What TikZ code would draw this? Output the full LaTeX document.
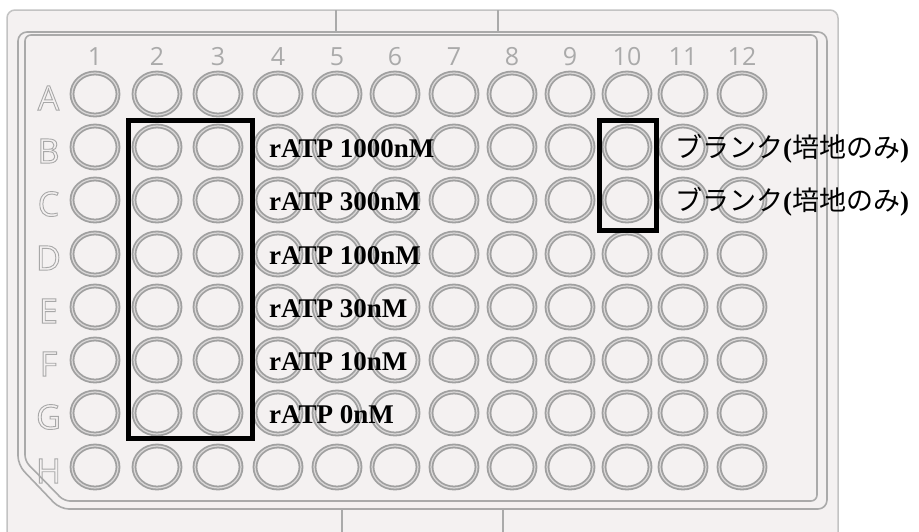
\documentclass[tikz,border=0pt]{standalone}
\usepackage{fontspec}
\setmainfont{Liberation Serif}
\newfontfamily\cjk{Noto Sans CJK JP}
\newfontfamily\labfont{Open Sans}
\usetikzlibrary{shapes.geometric}
\definecolor{platefill}{RGB}{244,241,241}
\definecolor{edge}{RGB}{195,195,195}
\definecolor{frameline}{RGB}{170,170,170}
\definecolor{ring}{RGB}{160,160,160}
\definecolor{ringgap}{RGB}{218,216,216}
\definecolor{labgray}{RGB}{170,170,170}
\newcommand\outlinetext[1]{\special{pdf:literal direct 1 Tr 0.9 w 0.66 0.66 0.66 RG}#1\special{pdf:literal direct 0 Tr}}
\begin{document}
\begin{tikzpicture}[x=1pt,y=-1pt,
  well/.style={ellipse, draw=ring, line width=1.8pt, double=ringgap, double distance=1.2pt,
    minimum width=46pt, minimum height=42pt, inner sep=0pt},
  lab/.style={anchor=base west, inner sep=0pt, font=\fontsize{27}{30}\selectfont\bfseries, text=black},
  jlab/.style={anchor=base west, inner sep=0pt, font=\fontsize{27}{30}\selectfont, text=black},
  colnum/.style={inner sep=0pt, font=\labfont\fontsize{25}{27}\selectfont, text=labgray},
  rowlet/.style={inner sep=0pt, font=\labfont\fontsize{34}{36}\selectfont, text=labgray},
  framebox/.style={draw=black, line width=4.5pt},
  plateline/.style={draw=frameline, line width=1.6pt}
]
\useasboundingbox (0,0) rectangle (919,531);
\fill[white] (0,0) rectangle (919,531);
% plate body
\draw[draw=edge, line width=1.5pt, fill=platefill, rounded corners=8pt] (7,10) rectangle (838,560);
% top tab
\draw[plateline] (336,10) -- (336,32);
\draw[plateline] (498,10) -- (498,32);
% frame lines
\draw[plateline, rounded corners=9pt] (60,509) -- (18,465) -- (18,32) -- (827,32) -- (827,509) -- cycle;
\draw[plateline, rounded corners=6pt] (64,501) -- (25,461) -- (25,35) -- (817,35) -- (817,501) -- cycle;
% bottom tab
\draw[plateline] (342,545) -- (342,509) -- (503,509) -- (503,545);
% column numbers
\foreach \x [count=\c] in {95,157,218,278,337,395,454,512,570,627,683,742}
  \node[colnum] (c\c) at (\x,56.5) {\c};
% wells
\foreach \y/\r in {94/A,147/B,200/C,254/D,307/E,360/F,413/G,467/H}
  \foreach \x [count=\c] in {95,157,218,278,337,395,454,512,570,627,683,742}
    \node[well] (w\r\c) at (\x,\y) {};
% highlight boxes
\draw[framebox] (128.5,120.5) rectangle (252.5,438.5);
\draw[framebox] (599.5,120.5) rectangle (656.5,230.5);
% labels
\node[lab] (lB) at (269,157) {rATP 1000nM};
\node[lab] (lC) at (269,210) {rATP 300nM};
\node[lab] (lD) at (269,264) {rATP 100nM};
\node[lab] (lE) at (269,317) {rATP 30nM};
\node[lab] (lF) at (269,370) {rATP 10nM};
\node[lab] (lG) at (269,423) {rATP 0nM};
\node[jlab] (jB) at (675,157) {{\cjk ブランク}{\bfseries(}{\cjk 培地のみ}{\bfseries)}};
\node[jlab] (jC) at (675,210) {{\cjk ブランク}{\bfseries(}{\cjk 培地のみ}{\bfseries)}};
% row letters (outlined)
\foreach \y/\r in {94/A,147/B,200/C,254/D,307/E,360/F,413/G,467/H}
  \node[rowlet] (r\r) at (48.5,\y+4) {\outlinetext{\r}};
\end{tikzpicture}
\end{document}
